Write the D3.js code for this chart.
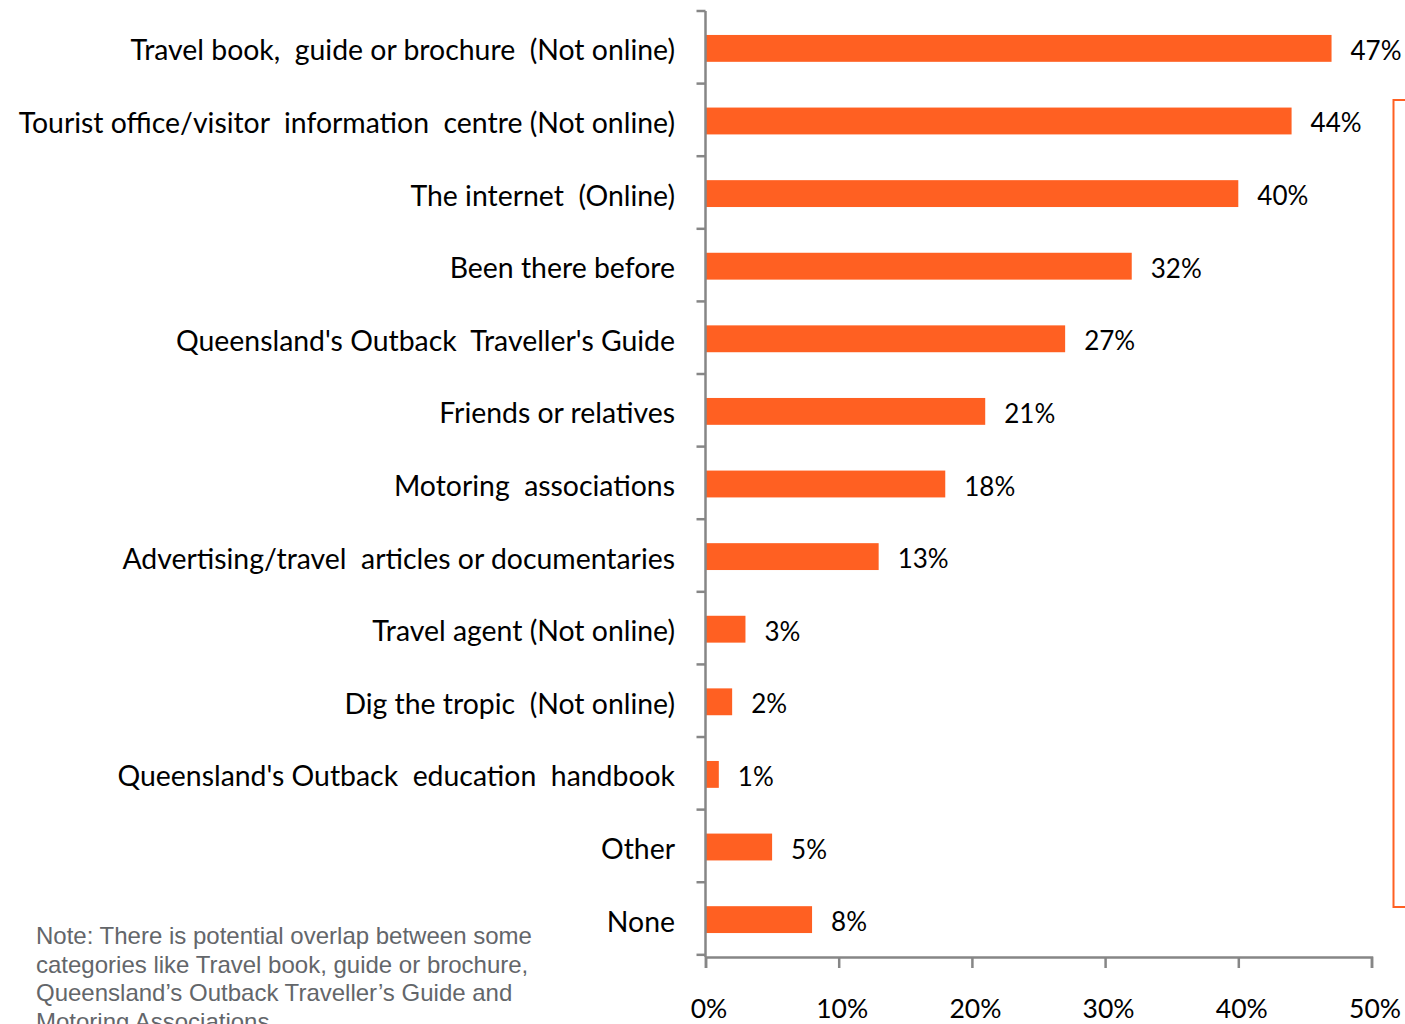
<!DOCTYPE html>
<html>
<head>
<meta charset="utf-8">
<script src="https://cdn.jsdelivr.net/npm/d3@7"></script>
<style>
  html, body { margin: 0; padding: 0; background: #fff; }
  svg { display: block; }
</style>
</head>
<body>
<svg id="chart" width="1405" height="1024"></svg>
<script>
// Sources of information used
const categories = [
  "Travel book,  guide or brochure  (Not online)",
  "Tourist office/visitor  information  centre (Not online)",
  "The internet  (Online)",
  "Been there before",
  "Queensland's Outback  Traveller's Guide",
  "Friends or relatives",
  "Motoring  associations",
  "Advertising/travel  articles or documentaries",
  "Travel agent (Not online)",
  "Dig the tropic  (Not online)",
  "Queensland's Outback  education  handbook",
  "Other",
  "None"
];
const values = [47, 44, 40, 32, 27, 21, 18, 13, 3, 2, 1, 5, 8];
const xTicks = [0, 10, 20, 30, 40, 50];
const noteLines = [
  "Note: There is potential overlap between some",
  "categories like Travel book, guide or brochure,",
  "Queensland\u2019s Outback Traveller\u2019s Guide and",
  "Motoring Associations"
];

const svg = d3.select("#chart");
const plotLeft = 705.5, plotRight = 1371.5, plotTop = 11, plotBottom = 957;
const barColor = "#ff6022";
const axisColor = "#868686";
const labelFont = "Lato, 'Open Sans', sans-serif";

const x = d3.scaleLinear().domain([0, 50]).range([plotLeft, plotRight]);
const y = d3.scaleBand().domain(categories).range([plotTop, plotBottom])
  .paddingInner(0.63).paddingOuter(0.33);
const step = y.step();

// Bars
svg.append("g").selectAll("rect")
  .data(categories)
  .join("rect")
  .attr("x", x(0))
  .attr("y", d => y(d))
  .attr("width", (d, i) => x(values[i]) - x(0))
  .attr("height", y.bandwidth())
  .attr("fill", barColor);

// Value labels
svg.append("g").selectAll("text")
  .data(categories)
  .join("text")
  .attr("x", (d, i) => x(values[i]) + 19)
  .attr("y", d => y(d) + y.bandwidth() / 2 + 11.5)
  .attr("font-family", labelFont)
  .attr("font-size", 26)
  .attr("fill", "#000")
  .text((d, i) => values[i] + "%");

// Category labels
svg.append("g").selectAll("text")
  .data(categories)
  .join("text")
  .attr("x", 675)
  .attr("y", d => y(d) + y.bandwidth() / 2 + 12)
  .attr("text-anchor", "end")
  .attr("font-family", labelFont)
  .attr("font-size", 28.4)
  .attr("fill", "#000")
  .style("white-space", "pre")
  .text(d => d);

// Y axis line and band-boundary ticks
const axisG = svg.append("g").attr("stroke", axisColor).attr("stroke-width", 2.5);
axisG.append("line").attr("x1", plotLeft).attr("x2", plotLeft).attr("y1", plotTop).attr("y2", plotBottom);
axisG.selectAll("line.yt")
  .data(d3.range(categories.length + 1))
  .join("line").attr("class", "yt")
  .attr("x1", plotLeft - 9).attr("x2", plotLeft)
  .attr("y1", i => plotTop + i * step).attr("y2", i => plotTop + i * step);

// X axis
const xAxis = d3.axisBottom(x).tickValues(xTicks).tickSize(11).tickFormat(d => d + "%");
const gx = svg.append("g").attr("transform", `translate(0,${plotBottom})`).call(xAxis);
gx.select(".domain").attr("stroke", axisColor).attr("stroke-width", 2.5);
gx.selectAll(".tick line").attr("stroke", axisColor).attr("stroke-width", 2.5);
gx.selectAll(".tick text")
  .attr("y", 61)
  .attr("dy", "0")
  .attr("dx", 3)
  .attr("font-family", labelFont)
  .attr("font-size", 26.5)
  .attr("fill", "#000");

// Bracket at the right edge
svg.append("path")
  .attr("d", "M1405,100 H1393.5 V907 H1405")
  .attr("fill", "none")
  .attr("stroke", barColor)
  .attr("stroke-width", 2);

// Note
svg.append("g").selectAll("text")
  .data(noteLines)
  .join("text")
  .attr("x", 36)
  .attr("y", (d, i) => 944 + i * 28.5)
  .attr("font-family", "'Liberation Sans', Arial, sans-serif")
  .attr("font-size", 24)
  .attr("fill", "#63666a")
  .text(d => d);
</script>
</body>
</html>
